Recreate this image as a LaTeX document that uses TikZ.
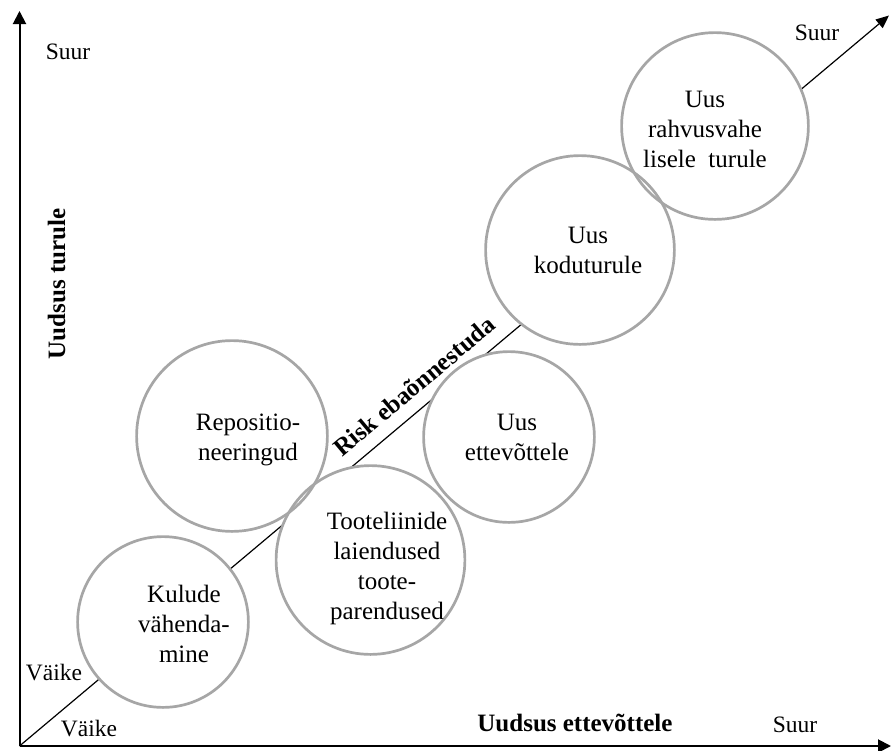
\documentclass[tikz,border=0pt]{standalone}
\usepackage{fontspec}
\setmainfont{Liberation Serif}
\usetikzlibrary{arrows.meta,calc}
\definecolor{ringgray}{HTML}{A6A6A6}
\begin{document}
\begin{tikzpicture}[x=0.5pt,y=-0.5pt,
  axisline/.style={line width=1pt,-{Triangle[length=6.5pt,width=6.5pt]}},
  riskline/.style={line width=0.6pt,-{Triangle[length=6.5pt,width=5.5pt]}},
  disc/.style={circle,fill=white,draw=none,inner sep=0pt,minimum size=#1},
  ringline/.style={draw=ringgray,line width=1.35pt},
  bubbletext/.style={align=center,font=\fontsize{12.5}{15}\selectfont,inner sep=0pt},
  cornerlabel/.style={font=\fontsize{11.75}{14}\selectfont,inner sep=0pt},
  axislabel/.style={font=\bfseries\fontsize{12.5}{15}\selectfont,inner sep=0pt}]

\useasboundingbox (0,0) rectangle (891,751);

% axes and the diagonal
\coordinate (O) at (19.5,746);
\coordinate (ytip) at (19.5,11);
\coordinate (xtip) at (891,746);
\coordinate (dtip) at (889,15.5);
\draw[riskline] (O) -- (dtip);
\draw[axisline] (O) -- (ytip);
\draw[axisline] (O) -- (xtip);

% white discs hide the diagonal
\node[disc=85pt] (kulude) at (163,622) {};
\node[disc=95pt] (repos) at (232,436) {};
\node[disc=94pt] (toote) at (370.5,560) {};
\node[disc=85pt] (ettev) at (509,437) {};
\node[disc=94pt] (kodu) at (580,250) {};
\node[disc=93pt] (rahvus) at (715,126) {};

% outlines on top of all discs
\foreach \c in {kulude,repos,toote,ettev,kodu,rahvus}
  \draw[ringline] let \p1=(\c.north), \p2=(\c.center) in (\p2) circle[radius={\y1-\y2}];

% texts inside the circles
\node[bubbletext] (tkulude) at (184,624) {Kulude\\vähenda-\\mine};
\node[bubbletext] (trepos) at (248,440) {Repositio-\\neeringud};
\node[bubbletext] (ttoote) at (387,568) {Tooteliinide\\laiendused\\toote-\\parendused};
\node[bubbletext] (tettev) at (517,437) {Uus\\ettevõttele};
\node[bubbletext] (tkodu) at (588,250) {Uus\\koduturule};
\node[bubbletext] (trahvus) at (705,129) {Uus\\rahvusvahe\\lisele\ \ turule};

% diagonal label
\node[rotate=40.03,font=\bfseries\fontsize{12.5}{15}\selectfont,inner sep=0pt] (risk) at (414,386) {Risk ebaõnnestuda};

% axis labels
\node[axislabel,rotate=90] (yname) at (56.5,284) {Uudsus turule};
\node[axislabel] (xname) at (575,723) {Uudsus ettevõttele};

% scale ends
\node[cornerlabel] (ybig) at (68,52) {Suur};
\node[cornerlabel] (ysmall) at (54,673) {Väike};
\node[cornerlabel] (xsmall) at (89,729) {Väike};
\node[cornerlabel] (xbig) at (795,725) {Suur};
\node[cornerlabel] (dbig) at (817,33) {Suur};
\end{tikzpicture}
\end{document}
